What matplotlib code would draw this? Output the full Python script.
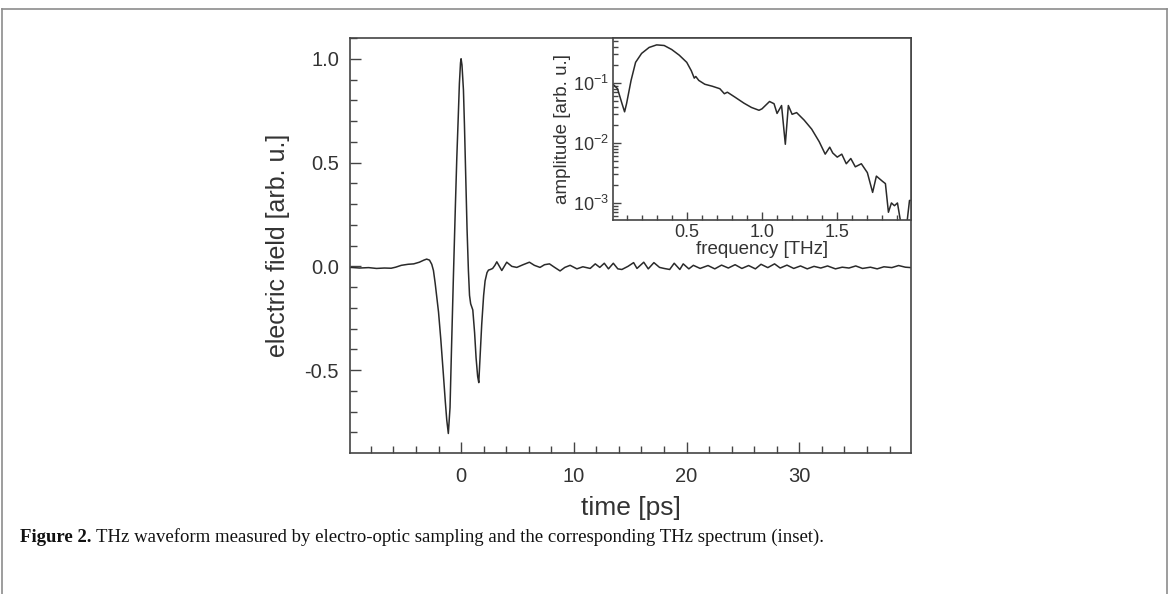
import matplotlib
matplotlib.use('Agg')
import matplotlib.pyplot as plt
from matplotlib.lines import Line2D
from matplotlib.ticker import MultipleLocator, LogLocator, NullFormatter

plt.rcParams['font.family'] = ['Liberation Sans', 'DejaVu Sans']
plt.rcParams['mathtext.fontset'] = 'custom'
plt.rcParams['mathtext.rm'] = 'Liberation Sans'
plt.rcParams['axes.unicode_minus'] = False

# THz waveform (time in ps, field in arb. u.)
time_ps = [-9.8, -9.0, -8.2, -7.5, -6.8, -6.2, -5.8, -5.3, -4.7, -4.2, -3.7, -3.3,
           -3.05, -2.8, -2.6, -2.45, -2.3, -2.15, -2.0, -1.8, -1.57, -1.4, -1.27,
           -1.13, -0.98, -0.85, -0.68, -0.5, -0.38, -0.25, -0.15, -0.05, 0.0, 0.08,
           0.21, 0.3, 0.41, 0.53, 0.65, 0.75, 0.85, 1.04, 1.2, 1.33, 1.47, 1.57,
           1.7, 1.83, 2.0, 2.13, 2.3, 2.43, 2.6, 2.8, 3.0, 3.17, 3.61, 4.05, 4.5,
           4.94, 5.5, 6.06, 6.5, 7.0, 7.4, 7.84, 8.3, 8.78, 9.2, 9.67, 10.27, 10.8,
           11.45, 11.9, 12.3, 12.7, 13.07, 13.5, 13.9, 14.26, 14.8, 15.3, 15.6,
           16.2, 16.6, 17.1, 17.6, 18.0, 18.5, 18.9, 19.4, 19.7, 20.2, 20.6, 21.2,
           21.9, 22.5, 23.1, 23.7, 24.3, 24.9, 25.5, 26.1, 26.6, 27.2, 27.8, 28.3,
           28.9, 29.5, 30.1, 30.7, 31.3, 31.9, 32.5, 33.2, 33.8, 34.4, 35.0, 35.6,
           36.3, 36.9, 37.5, 38.2, 38.8, 39.4, 39.9]
field = [-0.005, -0.008, -0.006, -0.01, -0.008, -0.009, -0.004, 0.005, 0.01, 0.012,
         0.02, 0.03, 0.035, 0.03, 0.01, -0.02, -0.08, -0.15, -0.22, -0.35, -0.52,
         -0.65, -0.74, -0.805, -0.68, -0.4, -0.05, 0.3, 0.52, 0.72, 0.88, 0.98, 1.0,
         0.97, 0.85, 0.68, 0.44, 0.18, -0.02, -0.14, -0.18, -0.21, -0.32, -0.44,
         -0.53, -0.56, -0.42, -0.28, -0.14, -0.07, -0.03, -0.018, -0.015, -0.01,
         0.005, 0.022, -0.02, 0.02, 0.0, -0.005, 0.008, 0.02, 0.005, -0.005, 0.008,
         0.012, -0.005, -0.022, -0.005, 0.005, -0.012, -0.002, -0.01, 0.012, -0.005,
         0.015, -0.012, 0.015, -0.012, -0.015, 0.0, 0.018, -0.01, 0.02, -0.012,
         0.018, -0.005, -0.01, -0.015, 0.015, -0.015, 0.012, -0.012, 0.005, -0.01,
         0.004, -0.012, 0.006, -0.008, 0.008, -0.01, 0.004, -0.012, 0.01, -0.006,
         0.012, -0.008, 0.006, -0.01, 0.002, -0.012, 0.0, -0.008, 0.002, -0.012,
         -0.004, -0.008, 0.002, -0.01, -0.004, -0.012, -0.002, -0.006, 0.004,
         -0.004, -0.006]

# THz spectrum (frequency in THz, amplitude in arb. u.)
freq_thz = [0.01, 0.04, 0.07, 0.087, 0.1, 0.13, 0.16, 0.2, 0.25, 0.3, 0.35, 0.4,
            0.45, 0.5, 0.53, 0.55, 0.56, 0.58, 0.62, 0.67, 0.72, 0.75, 0.77, 0.82,
            0.88, 0.93, 0.98, 1.0, 1.05, 1.08, 1.1, 1.13, 1.155, 1.175, 1.2, 1.23,
            1.28, 1.33, 1.38, 1.42, 1.45, 1.47, 1.5, 1.53, 1.56, 1.59, 1.62, 1.66,
            1.7, 1.735, 1.76, 1.8, 1.82, 1.84, 1.86, 1.88, 1.9, 1.92, 1.96, 1.98,
            1.995]
amplitude = [0.095, 0.08, 0.045, 0.033, 0.045, 0.11, 0.22, 0.31, 0.39, 0.43, 0.42,
             0.36, 0.29, 0.22, 0.16, 0.12, 0.128, 0.11, 0.095, 0.088, 0.08, 0.066,
             0.07, 0.058, 0.046, 0.039, 0.035, 0.037, 0.049, 0.045, 0.031, 0.042,
             0.0095, 0.042, 0.03, 0.032, 0.024, 0.017, 0.0105, 0.0065, 0.0085,
             0.0068, 0.0058, 0.0065, 0.0045, 0.0055, 0.004, 0.0045, 0.0032, 0.0015,
             0.0028, 0.0023, 0.0021, 0.0007, 0.001, 0.0009, 0.001, 0.0005, 0.0004,
             0.0011, 0.0011]

W, H = 1171, 594
fig = plt.figure(figsize=(W / 100, H / 100), dpi=100)
txt = '#333333'
ln = '#2a2a2a'

# main axes
ax = fig.add_axes([350 / W, 1 - 453 / H, (911 - 350) / W, (453 - 38) / H])
ax.plot(time_ps, field, color=ln, lw=1.1)
ax.set_xlim(-9.85, 39.9)
ax.set_ylim(-0.899, 1.10)
ax.xaxis.set_major_locator(MultipleLocator(10))
ax.xaxis.set_minor_locator(MultipleLocator(2))
ax.yaxis.set_major_locator(MultipleLocator(0.5))
ax.yaxis.set_minor_locator(MultipleLocator(0.1))
ax.tick_params(which='both', direction='in', colors='#444444', labelcolor=txt,
               labelsize=14.5, width=1.0)
ax.tick_params(which='major', length=8)
ax.tick_params(which='minor', length=5)
ax.tick_params(axis='y', pad=8)
ax.tick_params(axis='x', pad=10)
for s in ax.spines.values():
    s.set_color('#444444')
    s.set_linewidth(1.2)
ax.set_xlabel('time [ps]', fontsize=19, color=txt, labelpad=7)
ax.set_ylabel('electric field [arb. u.]', fontsize=18, color=txt, labelpad=10)

# inset
axi = fig.add_axes([613 / W, 1 - 220 / H, (911 - 613) / W, (220 - 38) / H])
axi.semilogy(freq_thz, amplitude, color=ln, lw=1.1)
axi.set_xlim(0.01, 1.99)
axi.set_ylim(5.2e-4, 0.56)
axi.xaxis.set_major_locator(MultipleLocator(0.5))
axi.xaxis.set_minor_locator(MultipleLocator(0.1))
axi.yaxis.set_major_locator(LogLocator(base=10, numticks=10))
axi.yaxis.set_minor_locator(LogLocator(base=10, subs=range(2, 10), numticks=20))
axi.yaxis.set_minor_formatter(NullFormatter())
axi.tick_params(which='both', direction='in', colors='#444444', labelcolor=txt,
                labelsize=13, width=1.0)
axi.tick_params(which='major', length=6)
axi.tick_params(which='minor', length=3.5)
axi.tick_params(axis='x', pad=3)
axi.tick_params(axis='y', pad=3)
for s in axi.spines.values():
    s.set_color('#444444')
    s.set_linewidth(1.2)
axi.set_xlabel('frequency [THz]', fontsize=13.5, color=txt, labelpad=0)
axi.set_ylabel('amplitude [arb. u.]', fontsize=13.5, color=txt, labelpad=1)

# figure frame
frame = '#8c8c8c'
y_top = 1 - 9 / H
fig.add_artist(Line2D([2 / W, 1167 / W], [y_top, y_top], color=frame, lw=1.2))
fig.add_artist(Line2D([2 / W, 2 / W], [0, y_top], color=frame, lw=1.2))
fig.add_artist(Line2D([1167 / W, 1167 / W], [0, y_top], color=frame, lw=1.2))

# caption
cap_y = 1 - 537 / H
t1 = fig.text(20 / W, cap_y, 'Figure 2.', fontsize=13.5, fontweight='bold',
              family='Liberation Serif', va='center', color='#111111')
fig.canvas.draw()
bb = t1.get_window_extent()
fig.text((bb.x1 + 4) / W, cap_y,
         'THz waveform measured by electro-optic sampling and the corresponding THz spectrum (inset).',
         fontsize=13.5, family='Liberation Serif', va='center', color='#111111')

fig.savefig('out.png', dpi=100)
